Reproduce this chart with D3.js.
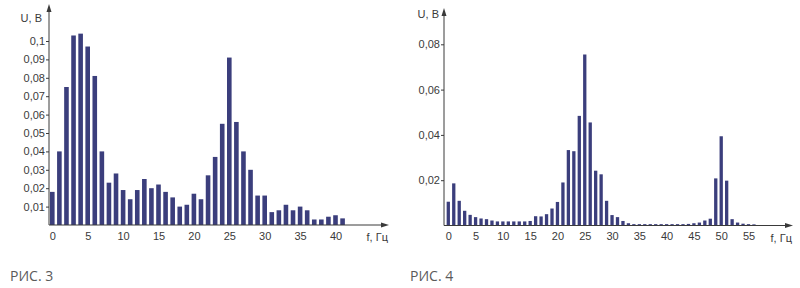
<!DOCTYPE html>
<html>
<head>
<meta charset="utf-8">
<script src="https://cdn.jsdelivr.net/npm/d3@7"></script>
<style>
  body { margin: 0; background: #fff; }
  svg { display: block; font-family: "Liberation Sans", Arial, sans-serif; }
</style>
</head>
<body>
<svg id="chart" width="800" height="288"></svg>
<script>
// Рис. 3 — spectrum values, f = 0..41 Hz
const freq3 = d3.range(0, 42);
const volts3 = [
  0.018, 0.040, 0.075, 0.103, 0.104, 0.097, 0.081, 0.040, 0.023, 0.028,
  0.019, 0.014, 0.019, 0.025, 0.020, 0.022, 0.018, 0.015, 0.010, 0.011,
  0.017, 0.014, 0.027, 0.037, 0.055, 0.091, 0.056, 0.040, 0.030, 0.016,
  0.016, 0.007, 0.008, 0.011, 0.008, 0.010, 0.008, 0.003, 0.003, 0.0045,
  0.0053, 0.0036
];
const yTicks3 = [0.01, 0.02, 0.03, 0.04, 0.05, 0.06, 0.07, 0.08, 0.09, 0.1];
const xTicks3 = [0, 5, 10, 15, 20, 25, 30, 35, 40];

// Рис. 4 — spectrum values, f = 0..56 Hz
const freq4 = d3.range(0, 57);
const volts4 = [
  0.0105, 0.0186, 0.0109, 0.0065, 0.0047, 0.0037, 0.0031, 0.0028, 0.0022, 0.0018,
  0.0018, 0.0018, 0.0018, 0.0018, 0.0018, 0.0020, 0.0041, 0.0040, 0.0050, 0.0075,
  0.0104, 0.0190, 0.0333, 0.0328, 0.0484, 0.0755, 0.0455, 0.0242, 0.0226, 0.0109,
  0.0046, 0.0037, 0.0020, 0.0010, 0.0006, 0.0006, 0.0006, 0.0006, 0.0006, 0.0006,
  0.0006, 0.0006, 0.0006, 0.0006, 0.0007, 0.0010, 0.0013, 0.0022, 0.0030, 0.0208,
  0.0394, 0.0198, 0.0028, 0.0013, 0.0008, 0.0006, 0.0005
];
const yTicks4 = [0.02, 0.04, 0.06, 0.08];
const xTicks4 = [0, 5, 10, 15, 20, 25, 30, 35, 40, 45, 50, 55];

const barColor = "#3b3e7c";
const inkColor = "#3a3a3a";
const fmt = d => String(+d.toFixed(2)).replace(".", ",");

const svg = d3.select("#chart");

function drawPanel(cfg) {
  const g = svg.append("g");
  const x = d3.scaleLinear().domain(cfg.xDomain).range(cfg.xRange);
  const y = d3.scaleLinear().domain(cfg.yDomain).range(cfg.yRange);
  const base = y(0);

  // bars
  g.selectAll("rect.bar")
    .data(cfg.freq.map((f, i) => ({ f, v: cfg.volts[i] })))
    .join("rect")
    .attr("class", "bar")
    .attr("x", d => x(d.f) - cfg.barW / 2)
    .attr("y", d => y(d.v))
    .attr("width", cfg.barW)
    .attr("height", d => base - y(d.v))
    .attr("fill", barColor);

  // y axis
  const yAxis = g.append("g")
    .attr("transform", `translate(${cfg.axisX},0)`)
    .call(d3.axisLeft(y).tickValues(cfg.yTicks).tickSize(3).tickPadding(1).tickFormat(fmt));
  yAxis.select(".domain").remove();
  yAxis.selectAll("line").attr("stroke", inkColor);
  yAxis.selectAll("text").attr("fill", inkColor).attr("font-size", 11)
    .attr("font-family", "Liberation Sans, Arial, sans-serif");

  // x axis labels
  const xAxis = g.append("g")
    .attr("transform", `translate(0,${base})`)
    .call(d3.axisBottom(x).tickValues(cfg.xTicks).tickSize(0).tickPadding(7).tickFormat(d3.format("d")));
  xAxis.select(".domain").remove();
  xAxis.selectAll("text").attr("fill", inkColor).attr("font-size", 11)
    .attr("font-family", "Liberation Sans, Arial, sans-serif");

  // axis lines with arrows
  g.append("line")
    .attr("x1", cfg.axisX).attr("x2", cfg.axisX)
    .attr("y1", base).attr("y2", cfg.yTop + 4)
    .attr("stroke", inkColor).attr("stroke-width", 1);
  g.append("path")
    .attr("d", `M${cfg.axisX},${cfg.yTop} l-2.5,8 l5,0 z`)
    .attr("fill", inkColor);
  g.append("line")
    .attr("x1", cfg.axisX).attr("x2", cfg.xEnd - 4)
    .attr("y1", base).attr("y2", base)
    .attr("stroke", inkColor).attr("stroke-width", 1);
  g.append("path")
    .attr("d", `M${cfg.xEnd},${base} l-8,-2.5 l0,5 z`)
    .attr("fill", inkColor);

  // axis titles
  g.append("text")
    .attr("x", cfg.axisX - cfg.uGap).attr("y", cfg.uY)
    .attr("text-anchor", "end")
    .attr("font-size", 11).attr("fill", inkColor)
    .text("U, B");
  g.append("text")
    .attr("x", cfg.xEnd - 1).attr("y", base + 16)
    .attr("text-anchor", "end")
    .attr("font-size", 11).attr("fill", inkColor)
    .text("f, Гц");

  // caption
  g.append("text")
    .attr("x", cfg.captionX).attr("y", 281)
    .attr("font-size", 14).attr("fill", "#5a5a5a")
    .attr("font-family", "Open Sans, Liberation Sans, sans-serif")
    .text(cfg.caption);
}

drawPanel({
  freq: freq3, volts: volts3, yTicks: yTicks3, xTicks: xTicks3,
  xDomain: [0, 40], xRange: [52.3, 335.5],
  yDomain: [0, 0.1], yRange: [225, 41],
  axisX: 49, yTop: 4, xEnd: 389, barW: 4.6,
  uGap: 7, uY: 22,
  caption: "РИС. 3", captionX: 10
});

drawPanel({
  freq: freq4, volts: volts4, yTicks: yTicks4, xTicks: xTicks4,
  xDomain: [0, 55], xRange: [448.3, 748.5],
  yDomain: [0, 0.08], yRange: [225.5, 44.3],
  axisX: 444, yTop: 8, xEnd: 793, barW: 3.3,
  uGap: 5, uY: 18,
  caption: "РИС. 4", captionX: 410
});
</script>
</body>
</html>
